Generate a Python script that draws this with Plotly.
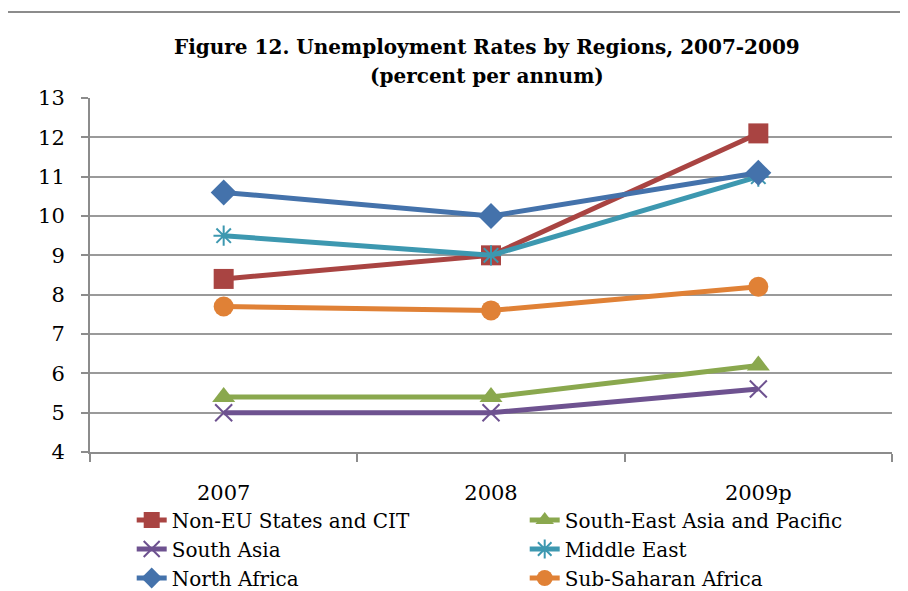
import plotly.graph_objects as go

years = ["2007", "2008", "2009p"]
non_eu = [8.4, 9.0, 12.1]
se_asia = [5.4, 5.4, 6.2]
south_asia = [5.0, 5.0, 5.6]
middle_east = [9.5, 9.0, 11.0]
north_africa = [10.6, 10.0, 11.1]
sub_saharan = [7.7, 7.6, 8.2]

series = [
    ("Non-EU States and CIT", non_eu, "#A94442", "square", 20),
    ("South-East Asia and Pacific", se_asia, "#8AA84E", "triangle-up", 20),
    ("South Asia", south_asia, "#6E5290", "x-thin", 17),
    ("Middle East", middle_east, "#3D98B0", "asterisk", 17),
    ("North Africa", north_africa, "#4472AB", "diamond", 20),
    ("Sub-Saharan Africa", sub_saharan, "#E08136", "circle", 20),
]

FONT = "DejaVu Serif"

fig = go.Figure()
for name, vals, col, sym, sz in series:
    thin = "thin" in sym or sym == "asterisk"
    fig.add_trace(go.Scatter(
        x=years, y=vals, name=name, mode="lines+markers",
        line=dict(color=col, width=5),
        marker=dict(symbol=sym, size=sz, color=col,
                    line=dict(color=col, width=2 if thin else 0)),
    ))

fig.update_layout(
    width=908, height=591,
    margin=dict(l=82, r=24, t=90, b=147, autoexpand=False),
    paper_bgcolor="white", plot_bgcolor="white",
    font=dict(family=FONT, size=21, color="black"),
    showlegend=True,
    legend=dict(
        orientation="h", x=0.052, xanchor="left", y=-0.137, yanchor="top",
        entrywidth=348, entrywidthmode="pixels",
        font=dict(family=FONT, size=20, color="black"),
        bgcolor="rgba(0,0,0,0)", traceorder="normal",
        itemwidth=30,
    ),
    xaxis=dict(
        type="category", range=[-0.5, 2.5],
        showgrid=False, zeroline=False,
        showline=True, linecolor="#8C8C8C", linewidth=2,
        ticks="outside", ticklen=8, tickcolor="#8C8C8C", tickwidth=2,
        tickson="boundaries", ticklabelstandoff=21,
        tickfont=dict(family=FONT, size=21, color="black"),
    ),
    yaxis=dict(
        range=[4, 13], dtick=1, tick0=4,
        showgrid=True, gridcolor="#9A9A9A", gridwidth=2,
        zeroline=False, showline=True, linecolor="#8C8C8C", linewidth=2,
        ticks="outside", ticklen=7, tickcolor="#8C8C8C", tickwidth=2,
        ticklabelstandoff=12,
        tickfont=dict(family=FONT, size=21, color="black"),
    ),
    annotations=[
        dict(text="<b>Figure 12. Unemployment Rates by Regions, 2007-2009</b>",
             xref="paper", yref="paper", x=0.495, y=1.144,
             xanchor="center", yanchor="middle", showarrow=False,
             font=dict(family=FONT, size=20, color="black")),
        dict(text="<b>(percent per annum)</b>",
             xref="paper", yref="paper", x=0.495, y=1.062,
             xanchor="center", yanchor="middle", showarrow=False,
             font=dict(family=FONT, size=20, color="black")),
    ],
    shapes=[
        dict(type="rect", xref="paper", yref="paper",
             x0=-0.106, x1=1.2, y0=-0.6, y1=1.243,
             line=dict(color="#8C8C8C", width=2), fillcolor="rgba(0,0,0,0)", layer="below"),
    ],
)

fig.write_html("out.html")
